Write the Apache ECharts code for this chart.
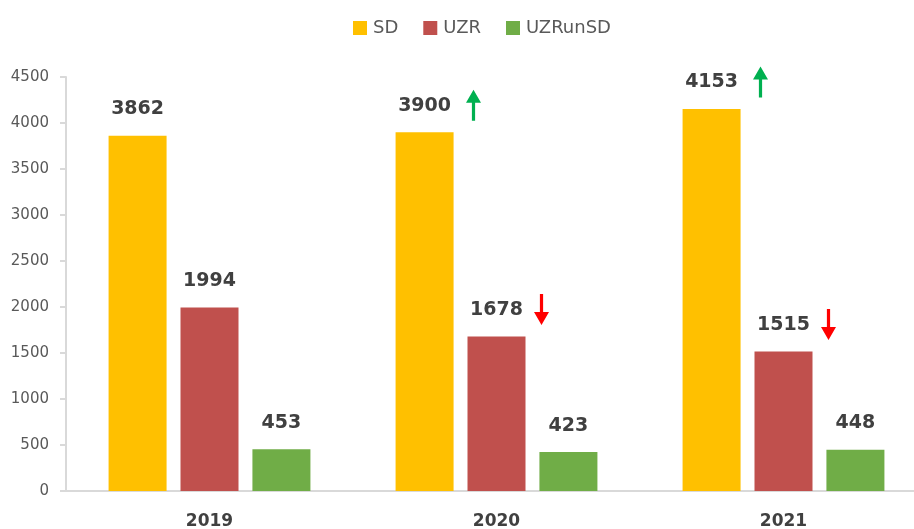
<!DOCTYPE html>
<html>
<head>
<meta charset="utf-8">
<script src="https://cdn.jsdelivr.net/npm/echarts@6/dist/echarts.min.js"></script>
<style>
  html, body { margin: 0; padding: 0; background: #fff; }
  #chart { width: 914px; height: 529px; }
</style>
</head>
<body>
<div id="chart"></div>
<script>
const years = ['2019', '2020', '2021'];
const sdValues = [3862, 3900, 4153];
const uzrValues = [1994, 1678, 1515];
const uzrunsdValues = [453, 423, 448];
const yTicks = { min: 0, max: 4500, interval: 500 };

// trend arrows: [category index, value of the bar it belongs to]
const upArrows = [[1, 3900], [2, 4153]];
const downArrows = [[1, 1678], [2, 1515]];

const font = 'DejaVu Sans';
const upPath = 'path://M7,0 L14,13 L8.5,13 L8.5,31 L5.5,31 L5.5,13 L0,13 Z';
const downPath = 'path://M5.5,0 L8.5,0 L8.5,18 L14,18 L7,31 L0,18 L5.5,18 Z';

const labelStyle = {
  show: true,
  position: 'top',
  distance: 17,
  color: '#404040',
  fontFamily: font,
  fontWeight: 'bold',
  fontSize: 19
};

function barSeries(name, data, color) {
  return {
    name: name,
    type: 'bar',
    data: data,
    barWidth: 58,
    barGap: '24%',
    itemStyle: { color: color },
    label: labelStyle
  };
}

const chart = echarts.init(document.getElementById('chart'));
chart.setOption({
  animation: false,
  legend: {
    top: 14,
    left: 348,
    icon: 'rect',
    itemWidth: 14,
    itemHeight: 14,
    itemGap: 25,
    data: ['SD', 'UZR', 'UZRunSD'],
    textStyle: { color: '#595959', fontFamily: font, fontSize: 18, padding: [0, 0, 0, 1] }
  },
  grid: { left: 66, top: 77, width: 861, bottom: 38, outerBoundsMode: 'none', containLabel: false },
  xAxis: {
    type: 'category',
    data: years,
    axisLine: { lineStyle: { color: '#d9d9d9', width: 2 } },
    axisTick: { show: false },
    axisLabel: {
      color: '#404040', fontFamily: font, fontWeight: 'bold', fontSize: 17, margin: 22
    }
  },
  yAxis: {
    type: 'value',
    min: yTicks.min,
    max: yTicks.max,
    interval: yTicks.interval,
    splitLine: { show: false },
    axisLine: { show: true, lineStyle: { color: '#d9d9d9', width: 2 } },
    axisTick: { show: true, length: 6, lineStyle: { color: '#d9d9d9', width: 2 } },
    axisLabel: {
      color: '#595959', fontFamily: font, fontSize: 15, margin: 17,
      formatter: function (v) { return String(v); }
    }
  },
  series: [
    barSeries('SD', sdValues, '#FFC000'),
    barSeries('UZR', uzrValues, '#C0504D'),
    barSeries('UZRunSD', uzrunsdValues, '#70AD47'),
    {
      type: 'scatter',
      data: upArrows,
      symbol: upPath,
      symbolSize: [15, 31],
      symbolOffset: [-23, -27],
      itemStyle: { color: '#00B050', opacity: 1 },
      silent: true,
      z: 5
    },
    {
      type: 'scatter',
      data: downArrows,
      symbol: downPath,
      symbolSize: [15, 31],
      symbolOffset: [45, -27],
      itemStyle: { color: '#FF0000', opacity: 1 },
      silent: true,
      z: 5
    }
  ]
});
</script>
</body>
</html>
